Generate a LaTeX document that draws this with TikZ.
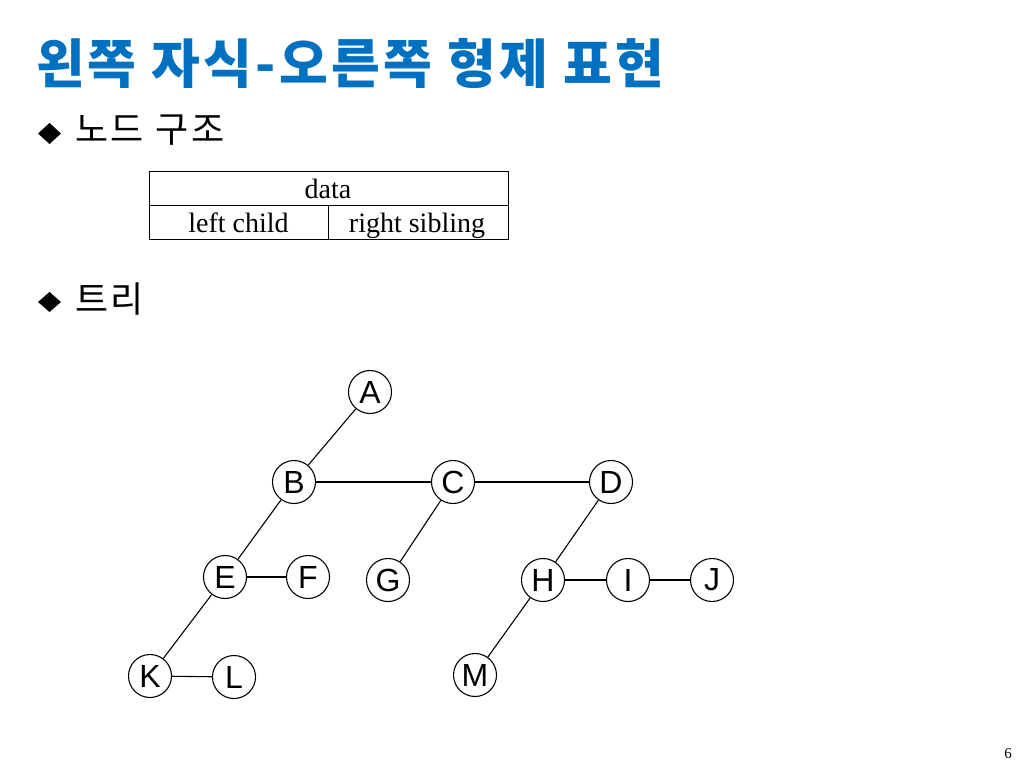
\documentclass[tikz,border=0pt]{standalone}
\usepackage{fontspec}
\setmainfont{Liberation Serif}
\newfontfamily\krfont{Noto Sans CJK KR}
\newfontfamily\krtitle[LetterSpace=6]{Noto Sans CJK KR}
\newfontfamily\krbody[LetterSpace=8]{Noto Sans CJK KR}
\newfontfamily\arialfont{Liberation Sans}
\definecolor{titleblue}{RGB}{0,112,192}
\begin{document}
\begin{tikzpicture}[x=1pt,y=-1pt,
  treenode/.style={circle,draw=black,line width=1.1pt,inner sep=0pt,minimum size=43pt,font=\arialfont\fontsize{32}{32}\selectfont},
  link/.style={draw=black,line width=1.1pt},
  txt/.style={inner sep=0pt,outer sep=0pt},
  bullet/.style={fill=black}]
\useasboundingbox[fill=white] (0,0) rectangle (1024,768);

% title
\node[txt,anchor=base west,text=titleblue,font=\krtitle\bfseries\fontsize{53}{53}\selectfont] (title) at (36,83) {왼쪽 자식-오른쪽 형제 표현};

% bullets
\fill[bullet] (38,133.5) -- (49.5,123) -- (61,133.5) -- (49.5,144) -- cycle;
\node[txt,anchor=base west,font=\krbody\fontsize{36}{36}\selectfont] (h1) at (75,142) {노드 구조};
\fill[bullet] (38,302) -- (49.5,292) -- (61,302) -- (49.5,312) -- cycle;
\node[txt,anchor=base west,font=\krbody\fontsize{36}{36}\selectfont] (h2) at (75,312) {트리};

% node structure table
\coordinate (tl) at (149,171);
\coordinate (br) at (508,239);
\coordinate (ml) at (149,205);
\coordinate (mr) at (508,205);
\coordinate (vt) at (328,205);
\coordinate (vb) at (328,239);
\draw[line width=1pt] (tl) rectangle (br);
\draw[line width=1pt] (ml) -- (mr);
\draw[line width=1pt] (vt) -- (vb);
\node[txt,anchor=base,font=\fontsize{28}{28}\selectfont] (data) at (328,198) {data};
\node[txt,anchor=base,font=\fontsize{28}{28}\selectfont] (lc) at (238.5,232.5) {left child};
\node[txt,anchor=base,font=\fontsize{28}{28}\selectfont] (rs) at (417,232.5) {right sibling};

% tree
\node[treenode] (A) at (370,392) {A};
\node[treenode] (B) at (294,482) {B};
\node[treenode] (C) at (453,482) {C};
\node[treenode] (D) at (611,482) {D};
\node[treenode] (E) at (225,577) {E};
\node[treenode] (F) at (308,577) {F};
\node[treenode] (G) at (388,580) {G};
\node[treenode] (H) at (543,580) {H};
\node[treenode] (I) at (628,580) {I};
\node[treenode] (J) at (712,580) {J};
\node[treenode] (K) at (150,676) {K};
\node[treenode] (L) at (234,677) {L};
\node[treenode] (M) at (475,675) {M};

\draw[link] (A) -- (B);
\draw[link] (B) -- (C);
\draw[link] (C) -- (D);
\draw[link] (B) -- (E);
\draw[link] (E) -- (F);
\draw[link] (C) -- (G);
\draw[link] (D) -- (H);
\draw[link] (H) -- (I);
\draw[link] (I) -- (J);
\draw[link] (E) -- (K);
\draw[link] (K) -- (L);
\draw[link] (H) -- (M);

% page number
\node[txt,anchor=base,font=\fontsize{15}{15}\selectfont] (pg) at (1008,758) {6};
\end{tikzpicture}
\end{document}
